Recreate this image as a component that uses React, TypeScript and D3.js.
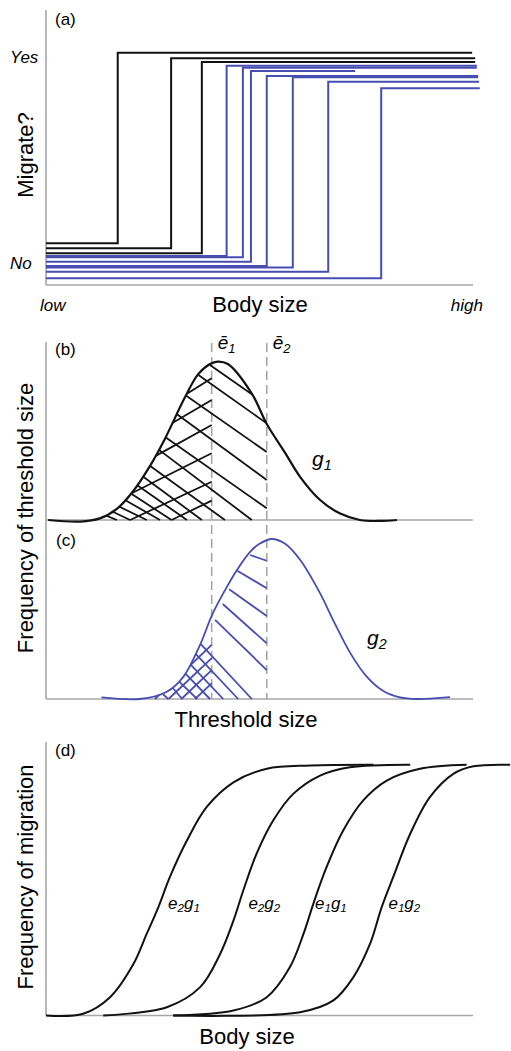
import React from 'react'
import * as d3 from 'd3'

const W = 511
const H = 1051
const FONT = '"Liberation Sans", Arial, Helvetica, sans-serif'
const BLACK = '#121212'
const BLUE = '#484db2'
const GREY = '#a6a6a6'

// (a) individual step reaction norms: threshold body size, No / Yes levels (offset), end of line
const stepGroup = ['g1', 'g1', 'g1', 'g2', 'g2', 'g2', 'g2', 'g2', 'g2', 'g2']
const stepThreshold = [16.8, 29.3, 36.5, 42.3, 46.1, 48.0, 51.7, 57.8, 66.1, 78.5]
const stepLow = [0.096, 0.071, 0.047, 0.034, 0.028, 0.006, -0.015, -0.022, -0.042, -0.074]
const stepHigh = [1.021, 0.994, 0.976, 0.958, 0.948, 0.932, 0.908, 0.902, 0.88, 0.848]
const stepEnd = [99.8, 100.5, 100.5, 100.9, 100.9, 72.4, 101.2, 101.2, 101.4, 101.6]

// (b) and (c) threshold size distributions
const meanThreshold = [38.8, 51.7] // ē1, ē2
const g1X = [0.5, 8.0, 12.6, 16.6, 20.4, 24.4, 27.9, 32.6, 35.6, 38.4, 40.2, 42.6, 48.2, 51.7, 56.0, 59.5, 64.2, 68.9, 73.5, 78.2, 82.2]
const g1Y = [0, -0.01, 0.01, 0.07, 0.18, 0.34, 0.51, 0.77, 0.91, 0.975, 0.99, 0.975, 0.79, 0.6, 0.42, 0.27, 0.125, 0.04, 0, -0.006, 0]
const g2X = [13.0, 22.0, 28.3, 32.2, 36.1, 38.8, 41.5, 44.8, 47.8, 50.0, 52.9, 56.0, 59.5, 64.2, 67.3, 71.2, 75.1, 79.0, 82.9, 86.8, 94.6]
const g2Y = [0.01, 0, 0.045, 0.14, 0.34, 0.52, 0.66, 0.81, 0.92, 0.97, 1.0, 0.97, 0.87, 0.66, 0.49, 0.29, 0.14, 0.05, 0.01, 0, 0.012]

// hatch strokes [x1, y1, x2, y2]
const hatchB1 = [
  [38.4, 0.969, 48.2, 0.786], [35.7, 0.906, 51.7, 0.604], [32.6, 0.781, 51.7, 0.425],
  [30.6, 0.663, 51.7, 0.25], [27.9, 0.519, 51.7, 0.073], [26.4, 0.44, 48.2, 0],
  [24.4, 0.338, 41.9, 0], [22.7, 0.272, 36.5, 0], [21.3, 0.219, 33.0, 0],
  [19.9, 0.165, 29.4, 0], [18.5, 0.125, 26.7, 0], [17.1, 0.084, 23.6, 0],
  [15.5, 0.053, 19.7, 0], [13.8, 0.03, 16.6, 0],
]
const hatchB2 = [
  [33.1, 0.79, 38.8, 0.886], [29.6, 0.606, 38.8, 0.75], [25.6, 0.399, 38.8, 0.594],
  [19.6, 0.161, 38.8, 0.417], [19.7, 0, 38.8, 0.239], [29.4, 0, 38.8, 0.121],
]
const hatchC1 = [
  [47.8, 0.9, 51.7, 0.864], [44.8, 0.802, 51.7, 0.692], [42.9, 0.686, 51.7, 0.519],
  [41.4, 0.594, 51.7, 0.348], [39.6, 0.494, 51.7, 0.181], [36.2, 0.344, 48.2, 0],
  [35.0, 0.284, 45.0, 0], [33.7, 0.219, 41.5, 0], [32.6, 0.16, 38.4, 0],
  [31.0, 0.113, 35.4, 0], [29.5, 0.075, 31.9, 0], [27.4, 0.031, 28.6, 0],
]
const hatchC2 = [
  [25.5, 0, 38.8, 0.338], [28.7, 0, 38.8, 0.256], [31.7, 0, 38.8, 0.181], [34.9, 0, 38.8, 0.098],
]

// (d) frequency of migration vs body size
const curveNames = [['2', '1'], ['2', '2'], ['1', '1'], ['1', '2']]
const sigX = [
  [0, 8.7, 15.0, 20.5, 23.6, 26.3, 29.0, 33.0, 37.6, 43.9, 51.7, 62.0, 76.7],
  [13.4, 28.3, 36.1, 40.8, 43.9, 46.2, 49.3, 53.2, 57.9, 64.2, 71.2, 85.3],
  [29.8, 43.9, 51.7, 57.1, 60.3, 62.6, 65.7, 69.6, 74.3, 79.8, 87.6, 98.5],
  [29.8, 59.5, 67.3, 72.0, 75.9, 78.6, 81.3, 85.3, 89.9, 95.4, 100.1, 108.7],
]
const sigY = [
  [0, 0.007, 0.073, 0.206, 0.326, 0.431, 0.551, 0.697, 0.83, 0.929, 0.983, 0.996, 0.999],
  [0, 0.033, 0.113, 0.246, 0.378, 0.498, 0.644, 0.777, 0.883, 0.956, 0.989, 0.999],
  [0, 0.02, 0.073, 0.192, 0.325, 0.445, 0.591, 0.737, 0.857, 0.936, 0.983, 0.999],
  [0, 0.013, 0.06, 0.153, 0.286, 0.431, 0.551, 0.724, 0.87, 0.963, 0.993, 0.999],
]
const labelX = [28.6, 47.4, 63.0, 80.2]
const labelY = 0.424

const x = d3.scaleLinear().domain([0, 100]).range([46, 473])
const yA = d3.scaleLinear().domain([0, 1]).range([263, 57])
const yB = d3.scaleLinear().domain([0, 1]).range([520, 360])
const yC = d3.scaleLinear().domain([0, 1]).range([699, 539])
const yD = d3.scaleLinear().domain([0, 1]).range([1015.5, 764.5])

function Sub({ t, dy = 4 }: { t: string; dy?: number }) {
  return (
    <tspan fontSize="0.68em" dy={dy}>
      {t}
    </tspan>
  )
}

export default function App() {
  const zip = (xs: number[], ys: number[]) => xs.map((v, i) => [v, ys[i]] as [number, number])
  const smooth = d3.curveCatmullRom.alpha(0.5)

  const stepLine = d3
    .line<[number, number]>()
    .x((d) => x(d[0]))
    .y((d) => yA(d[1]))
    .curve(d3.curveStepAfter)

  const lineB = d3.line<[number, number]>().x((d) => x(d[0])).y((d) => yB(d[1])).curve(smooth)
  const lineC = d3.line<[number, number]>().x((d) => x(d[0])).y((d) => yC(d[1])).curve(smooth)
  const areaB = d3.area<[number, number]>().x((d) => x(d[0])).y0(yB(0) + 1).y1((d) => yB(d[1])).curve(smooth)
  const areaC = d3.area<[number, number]>().x((d) => x(d[0])).y0(yC(0) + 1).y1((d) => yC(d[1])).curve(smooth)
  const lineD = d3.line<[number, number]>().x((d) => x(d[0])).y((d) => yD(d[1])).curve(smooth)

  const g1 = zip(g1X, g1Y)
  const g2 = zip(g2X, g2Y)

  const hatch = (segs: number[][], y: d3.ScaleLinear<number, number>, color: string, key: string) =>
    segs.map((s, i) => (
      <line key={key + i} x1={x(s[0])} y1={y(s[1])} x2={x(s[2])} y2={y(s[3])} stroke={color} strokeWidth={1.8} />
    ))

  const axisStyle = { stroke: GREY, strokeWidth: 1.6 }
  const titleSize = 22

  return (
    <svg
      width={W}
      height={H}
      viewBox={`0 0 ${W} ${H}`}
      style={{ position: 'absolute', left: 0, top: 0, background: '#fff' }}
      fontFamily={FONT}
    >
      <rect width={W} height={H} fill="#fff" />
      <defs>
        <clipPath id="clip-b">
          <path d={areaB(g1) || ''} />
        </clipPath>
        <clipPath id="clip-c">
          <path d={areaC(g2) || ''} />
        </clipPath>
      </defs>

      {/* (a) */}
      <line x1={x(0)} x2={x(0)} y1={10} y2={285} {...axisStyle} />
      <line x1={x(0)} x2={x(100)} y1={285} y2={285} {...axisStyle} />
      <text x={55} y={25} fontSize={17}>(a)</text>
      <text x={10} y={yA(1) + 6} fontSize={17} fontStyle="italic">Yes</text>
      <text x={10} y={yA(0) + 6} fontSize={17} fontStyle="italic">No</text>
      <text transform={`translate(33,155) rotate(-90)`} textAnchor="middle" fontSize={titleSize}>Migrate?</text>
      <text x={40} y={311} fontSize={17} fontStyle="italic">low</text>
      <text x={483} y={311} fontSize={17} fontStyle="italic" textAnchor="end">high</text>
      <text x={260} y={312} fontSize={titleSize} textAnchor="middle">Body size</text>
      {stepThreshold.map((t, i) => (
        <path
          key={'s' + i}
          d={stepLine([[0, stepLow[i]], [t, stepHigh[i]], [stepEnd[i], stepHigh[i]]]) || ''}
          fill="none"
          stroke={stepGroup[i] === 'g1' ? BLACK : BLUE}
          strokeWidth={2}
        />
      ))}

      {/* (b) and (c) */}
      <line x1={x(0)} x2={x(0)} y1={342} y2={699} {...axisStyle} />
      <line x1={x(0)} x2={x(100)} y1={yB(0)} y2={yB(0)} {...axisStyle} />
      <line x1={x(0)} x2={x(100)} y1={yC(0)} y2={yC(0)} {...axisStyle} />
      {meanThreshold.map((m, i) => (
        <line key={'e' + i} x1={x(m)} x2={x(m)} y1={343} y2={yC(0)} stroke={GREY} strokeWidth={1.6} strokeDasharray="9,5" />
      ))}
      {meanThreshold.map((m, i) => (
        <text key={'el' + i} x={x(m) + 6} y={349} fontSize={19} fontStyle="italic">
          ē<Sub t={String(i + 1)} dy={4} />
        </text>
      ))}
      <text x={55} y={355} fontSize={17}>(b)</text>
      <text x={56} y={546} fontSize={17}>(c)</text>
      <text transform={`translate(33,518) rotate(-90)`} textAnchor="middle" fontSize={titleSize}>Frequency of threshold size</text>
      <text x={246} y={727} fontSize={titleSize} textAnchor="middle">Threshold size</text>

      <g clipPath="url(#clip-b)">
        {hatch(hatchB1, yB, BLACK, 'hb1')}
        {hatch(hatchB2, yB, BLACK, 'hb2')}
      </g>
      <path d={lineB(g1) || ''} fill="none" stroke={BLACK} strokeWidth={2.2} />
      <text x={312} y={466} fontSize={21} fontStyle="italic">
        g<Sub t="1" dy={4} />
      </text>

      <g clipPath="url(#clip-c)">
        {hatch(hatchC1, yC, BLUE, 'hc1')}
        {hatch(hatchC2, yC, BLUE, 'hc2')}
      </g>
      <path d={lineC(g2) || ''} fill="none" stroke={BLUE} strokeWidth={1.8} />
      <text x={367} y={645} fontSize={21} fontStyle="italic">
        g<Sub t="2" dy={4} />
      </text>

      {/* (d) */}
      <line x1={x(0)} x2={x(0)} y1={742} y2={yD(0)} {...axisStyle} />
      <line x1={x(0)} x2={x(100)} y1={yD(0)} y2={yD(0)} {...axisStyle} />
      <text x={55} y={756} fontSize={17}>(d)</text>
      <text transform={`translate(33,877) rotate(-90)`} textAnchor="middle" fontSize={titleSize}>Frequency of migration</text>
      <text x={247} y={1044} fontSize={titleSize} textAnchor="middle">Body size</text>
      {sigX.map((xs, i) => (
        <path key={'d' + i} d={lineD(zip(xs, sigY[i])) || ''} fill="none" stroke={BLACK} strokeWidth={2} />
      ))}
      {curveNames.map((n, i) => (
        <text key={'dl' + i} x={x(labelX[i])} y={yD(labelY)} fontSize={17} fontStyle="italic">
          e<Sub t={n[0]} dy={3} />
          <tspan dy={-3}>g</tspan>
          <Sub t={n[1]} dy={3} />
        </text>
      ))}
    </svg>
  )
}
